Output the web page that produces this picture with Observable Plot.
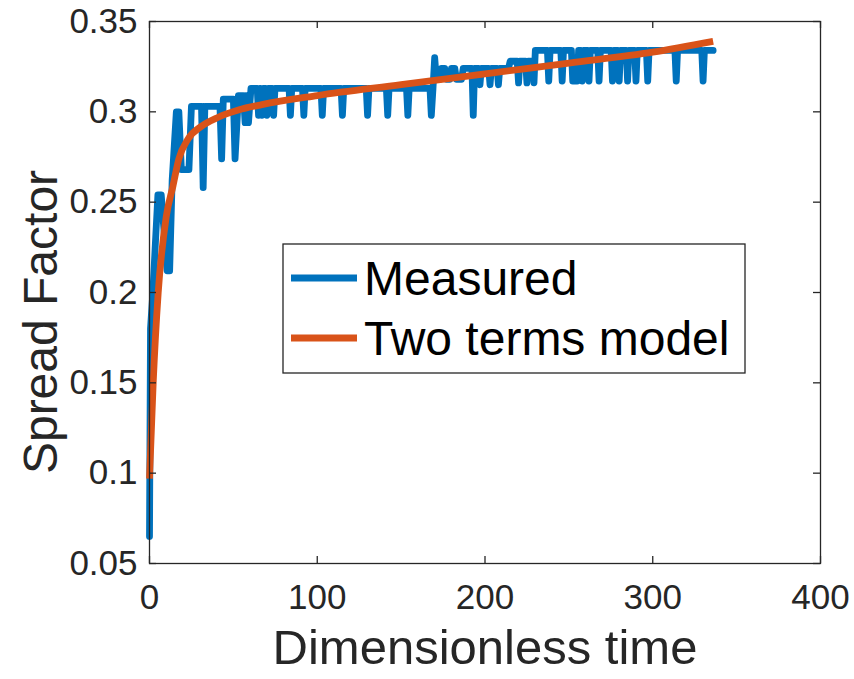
<!DOCTYPE html>
<html>
<head>
<meta charset="utf-8">
<script src="https://cdn.jsdelivr.net/npm/d3@7"></script>
<script src="https://cdn.jsdelivr.net/npm/@observablehq/plot@0.6"></script>
<style>
  html, body { margin: 0; padding: 0; background: #fff; }
  #chart { width: 854px; height: 679px; }
</style>
</head>
<body>
<div id="chart"></div>
<script>
// ---- data ----
const xTicks = [0, 100, 200, 300, 400];
const xTickLabels = ["0", "100", "200", "300", "400"];
const yTicks = [0.05, 0.1, 0.15, 0.2, 0.25, 0.3, 0.35];
const yTickLabels = ["0.05", "0.1", "0.15", "0.2", "0.25", "0.3", "0.35"];

const seriesNames = ["Measured", "Two terms model"];
const seriesColors = ["#0072BD", "#D95319"];

const measuredT = [
  0, 0.6, 2, 5, 7, 10.5, 12, 13.5, 16, 17.5, 19, 23.5, 25, 31, 32, 33, 42, 43, 44, 50,
  51, 53, 56, 57, 58, 59, 60.5,
  64.2, 65, 65.8, 66.2, 67, 67.8, 69.2, 70, 70.8, 73.2, 74, 74.8,
  83.2, 84, 84.8, 91.2, 92, 92.8, 102.2, 103, 103.8, 114.2, 115, 115.8,
  129.2, 130, 130.8, 141.2, 142, 142.8, 153.2, 154, 154.8, 167.2, 168, 169,
  170, 171, 173, 174, 176, 177, 179, 180, 182, 183, 186, 187,
  192.2, 193, 193.8, 196.2, 197, 197.8, 202.2, 203, 203.8, 207.2, 208, 208.8, 214,
  215, 219.2, 220, 220.8, 224.2, 225, 225.8, 228.5, 229.2,
  230, 237.2, 238, 238.8, 245.2, 246, 246.8, 251.5, 252.3, 255, 255.8,
  257.2, 258, 258.8, 261.2, 262, 262.8, 267.2, 268, 268.8, 275.2, 276, 276.8,
  279.2, 280, 280.8, 284.2, 285, 285.8, 289.2, 290, 290.8, 296.2, 297, 297.8,
  313.2, 314, 314.8, 329.2, 330, 330.8, 336
];
const measuredS = [
  0.065, 0.180, 0.200, 0.254, 0.254, 0.212, 0.212, 0.262, 0.300, 0.300, 0.268, 0.268, 0.303, 0.303, 0.258, 0.303, 0.303, 0.274, 0.307, 0.307,
  0.274, 0.309, 0.309, 0.294, 0.309, 0.294, 0.313,
  0.313, 0.298, 0.313, 0.313, 0.298, 0.313, 0.313, 0.298, 0.313, 0.313, 0.298, 0.313,
  0.313, 0.298, 0.313, 0.313, 0.298, 0.313, 0.313, 0.298, 0.313, 0.313, 0.298, 0.313,
  0.313, 0.298, 0.313, 0.313, 0.298, 0.313, 0.313, 0.298, 0.313, 0.313, 0.298, 0.313,
  0.330, 0.318, 0.318, 0.324, 0.324, 0.318, 0.318, 0.324, 0.324, 0.318, 0.318, 0.324,
  0.324, 0.298, 0.324, 0.324, 0.315, 0.324, 0.324, 0.315, 0.324, 0.324, 0.315, 0.324, 0.324,
  0.328, 0.328, 0.316, 0.328, 0.328, 0.316, 0.328, 0.328, 0.316,
  0.334, 0.334, 0.317, 0.334, 0.334, 0.317, 0.334, 0.334, 0.317, 0.317, 0.334,
  0.334, 0.317, 0.334, 0.334, 0.317, 0.334, 0.334, 0.317, 0.334, 0.334, 0.317, 0.334,
  0.334, 0.317, 0.334, 0.334, 0.317, 0.334, 0.334, 0.317, 0.334, 0.334, 0.317, 0.334,
  0.334, 0.317, 0.334, 0.334, 0.317, 0.334, 0.334
];

const modelT = [0, 2.2, 5.2, 10, 14, 17.5, 23, 31, 41, 53, 67, 100, 150, 200, 250, 300, 336];
const modelS = [0.097, 0.150, 0.200, 0.242, 0.259, 0.274, 0.285, 0.292, 0.297, 0.301, 0.304, 0.309, 0.315, 0.321, 0.327, 0.333, 0.339];

const xLabel = "Dimensionless time";
const yLabel = "Spread Factor";

// ---- tables built from the arrays ----
const measured = measuredT.map((t, i) => ({t, s: measuredS[i]}));
const model = modelT.map((t, i) => ({t, s: modelS[i]}));

const FONT = "'Liberation Sans', Arial, Helvetica, sans-serif";
const AX = "#262626";
const mL = 149, mR = 34, mT = 21, mB = 116;
const W = 854, H = 679;
const innerW = W - mL - mR, innerH = H - mT - mB;
const tickLen = 7;

const chart = Plot.plot({
  width: W,
  height: H,
  marginLeft: mL,
  marginRight: mR,
  marginTop: mT,
  marginBottom: mB,
  style: {fontFamily: FONT, color: AX, background: "#fff", overflow: "visible"},
  x: {domain: [0, 400]},
  y: {domain: [0.05, 0.35]},
  marks: [
    Plot.line(measured, {x: "t", y: "s", stroke: seriesColors[0], strokeWidth: 6.8, strokeLinejoin: "round", strokeLinecap: "round"}),
    Plot.line(model, {x: "t", y: "s", stroke: seriesColors[1], strokeWidth: 6.8, curve: "monotone-x", strokeLinecap: "butt"}),
    Plot.frame({stroke: AX, strokeWidth: 1.3}),
    // inward ticks on all four sides
    Plot.tickX(xTicks, {x: d => d, stroke: AX, strokeWidth: 1.3, insetTop: innerH - tickLen}),
    Plot.tickX(xTicks, {x: d => d, stroke: AX, strokeWidth: 1.3, insetBottom: innerH - tickLen}),
    Plot.tickY(yTicks, {y: d => d, stroke: AX, strokeWidth: 1.3, insetRight: innerW - tickLen}),
    Plot.tickY(yTicks, {y: d => d, stroke: AX, strokeWidth: 1.3, insetLeft: innerW - tickLen}),
    Plot.axisX(xTicks, {tickSize: 0, tickPadding: 21, tickFormat: d => xTickLabels[xTicks.indexOf(d)], fontSize: 35, fill: AX, label: null}),
    Plot.axisY(yTicks, {tickSize: 0, tickPadding: 12, tickFormat: d => yTickLabels[yTicks.indexOf(d)], fontSize: 35, fill: AX, label: null}),
    Plot.text([xLabel], {text: d => d, frameAnchor: "bottom", dy: 100, fontSize: 49, fill: AX})
  ]
});

const svg = d3.select(chart);
// y-axis title, rotated like MATLAB's ylabel
svg.append("text")
  .attr("transform", "translate(40,322) rotate(-90)")
  .attr("text-anchor", "middle")
  .attr("dy", "0.35em")
  .attr("font-family", FONT)
  .attr("font-size", 48)
  .attr("fill", AX)
  .text(yLabel);

// legend box drawn inside the axes, MATLAB-style
const lg = svg.append("g").attr("font-family", FONT).attr("text-anchor", "start");
lg.append("rect").attr("x", 283).attr("y", 244).attr("width", 462).attr("height", 129)
  .attr("fill", "#fff").attr("stroke", AX).attr("stroke-width", 1.3);
seriesNames.forEach((name, i) => {
  const cy = 278 + i * 60;
  lg.append("line").attr("x1", 291).attr("x2", 357).attr("y1", cy).attr("y2", cy)
    .attr("stroke", seriesColors[i]).attr("stroke-width", 6.8);
  lg.append("text").attr("x", 364).attr("y", cy + 17).attr("font-size", 48)
    .attr("text-anchor", "start").attr("fill", "#000").text(name);
});

document.getElementById("chart").appendChild(chart);
</script>
</body>
</html>
